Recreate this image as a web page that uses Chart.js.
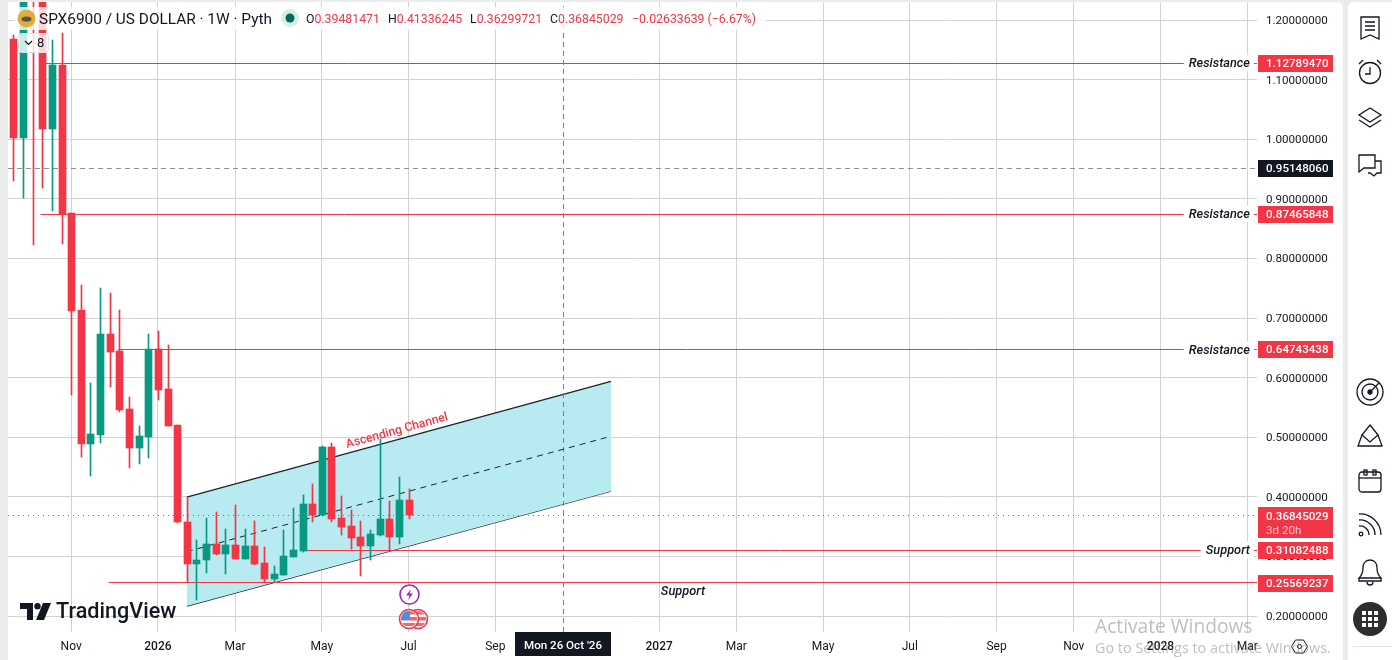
<!DOCTYPE html>
<html>
<head>
<meta charset="utf-8">
<title>SPX6900 / US DOLLAR</title>
<script src="https://cdn.jsdelivr.net/npm/chart.js@4"></script>
<style>
html, body { margin: 0; height: 100%; background: #ebebeb; overflow: hidden; font-family: Roboto, sans-serif; color: #131722; }
#panel { position: absolute; left: 8px; top: 2px; width: 1335px; height: 658px; background: #fff; border-top-right-radius: 6px; }
#side { position: absolute; left: 1348px; top: 2px; width: 44px; height: 658px; background: #fff; border-top-left-radius: 6px; }
#side svg { position: absolute; fill: none; stroke: #131722; stroke-width: 1.3; }
#side hr { position: absolute; left: 5px; right: 0; top: 644px; margin: 0; border: 0; border-top: 1px solid #e0e3eb; }
canvas { position: absolute; left: 0; top: 0; display: block; }
.abs { position: absolute; white-space: nowrap; }
#wash { left: 14px; top: 7px; width: 752px; height: 23px; background: rgba(255,255,255,.8); border-radius: 4px; }
#wash2 { left: 18px; top: 33px; width: 31px; height: 20px; background: rgba(255,255,255,.8); border: 1px solid #e0e3eb; border-radius: 4px; box-sizing: border-box; font-size: 13px; line-height: 18px; }
#title { left: 39px; top: 9px; font-size: 15.4px; line-height: 20px; }
.ohlc { top: 10px; font-size: 12.3px; line-height: 18px; color: #f23645; }
.ohlc b { font-weight: 400; color: #131722; }
#win1 { left: 1095px; top: 612px; font: 19.2px "Open Sans", sans-serif; color: rgba(110,110,110,.45); }
#win2 { left: 1095px; top: 638px; font: 14.4px "Open Sans", sans-serif; color: rgba(110,110,110,.45); }
#tv { left: 56px; top: 598px; font-size: 21.6px; font-weight: 500; line-height: 26px; color: #131722; }
</style>
</head>
<body>
<div id="panel"></div>
<div id="side">
  <svg style="left:10px;top:13px" width="24" height="26" viewBox="0 0 24 26"><path d="M3 2h18v22l-9-4-9 4zM7 7h10M7 11h10M7 15h10"/></svg>
  <svg style="left:8px;top:56px" width="28" height="28" viewBox="0 0 28 28"><circle cx="14" cy="15" r="10.5"/><path d="M14 9v7h-5M3 6l4-4M25 6l-4-4"/></svg>
  <svg style="left:8px;top:104px" width="28" height="24" viewBox="0 0 28 24"><path d="M14 2l11 7-11 7-11-7zM3 14l11 7 11-7"/></svg>
  <svg style="left:9px;top:150px" width="27" height="26" viewBox="0 0 27 26"><path d="M2 20V3h16v13H7zM18 9h6v12h-4l-3 3-4-3h-2"/></svg>
  <svg style="left:8px;top:376px" width="28" height="28" viewBox="0 0 28 28"><circle cx="14" cy="14" r="13"/><circle cx="14" cy="14" r="8"/><circle cx="14" cy="14" r="2" fill="#131722"/><path d="M14 14l9-9"/></svg>
  <svg style="left:9px;top:422px" width="26" height="24" viewBox="0 0 26 24"><path d="M13 1l8 10-8 7-8-7zM5 11l-4 11h24l-4-11"/></svg>
  <svg style="left:10px;top:466px" width="24" height="26" viewBox="0 0 24 26"><rect x="1" y="4" width="22" height="20" rx="3"/><path d="M1 10h22"/><rect x="6" y="2" width="3" height="5"/><rect x="15" y="2" width="3" height="5"/></svg>
  <svg style="left:10px;top:510px" width="24" height="26" viewBox="0 0 24 26"><circle cx="3" cy="22" r="1.8"/><path d="M1 14a9 9 0 0 1 10 9M1 8a15 15 0 0 1 16 15M1 2a21 21 0 0 1 22 21"/></svg>
  <svg style="left:9px;top:556px" width="26" height="28" viewBox="0 0 26 28"><path d="M13 2c-5 0-7 4-7 8 0 5-2 8-4 10h22c-2-2-4-5-4-10 0-4-2-8-7-8zM2 20v3h22v-3M10 24a3 3 0 0 0 6 0"/></svg>
  <svg style="left:5px;top:600px;stroke:none;fill:#2e2e2e" width="34" height="34" viewBox="0 0 34 34"><circle cx="17" cy="17" r="17"/><g fill="#fff"><rect x="9" y="9" width="4" height="4"/><rect x="15" y="9" width="4" height="4"/><rect x="21" y="9" width="4" height="4"/><rect x="9" y="15" width="4" height="4"/><rect x="15" y="15" width="4" height="4"/><rect x="21" y="15" width="4" height="4"/><rect x="9" y="21" width="4" height="4"/><rect x="15" y="21" width="4" height="4"/><rect x="21" y="21" width="4" height="4"/></g></svg>
  <hr>
</div>
<canvas id="chart" width="1392" height="660"></canvas>

<div id="wash" class="abs"></div>
<svg class="abs" style="left:17px;top:9px" width="19" height="19" viewBox="0 0 19 19"><circle cx="9.5" cy="9.5" r="9" fill="#e0ad3c"/><ellipse cx="9.5" cy="10" rx="5" ry="2.6" fill="#5b5140"/></svg>
<div id="title" class="abs">SPX6900 / US DOLLAR · 1W · Pyth</div>
<svg class="abs" style="left:281px;top:9px" width="18" height="18" viewBox="0 0 18 18"><circle cx="9" cy="9" r="9" fill="#d5eeea"/><circle cx="9" cy="9" r="4.5" fill="#006b58"/></svg>
<div class="abs ohlc" style="left:306px"><b>O</b>0.39481471</div>
<div class="abs ohlc" style="left:388px"><b>H</b>0.41336245</div>
<div class="abs ohlc" style="left:470px"><b>L</b>0.36299721</div>
<div class="abs ohlc" style="left:550px"><b>C</b>0.36845029</div>
<div class="abs ohlc" style="left:632px">−0.02633639 (−6.67%)</div>
<div id="wash2" class="abs"><svg style="position:absolute;left:5px;top:6px" width="9" height="6" viewBox="0 0 9 6"><path d="M1 1l3.5 3.5L8 1" fill="none" stroke="#131722" stroke-width="1.2"/></svg><span style="position:absolute;left:18px">8</span></div>

<svg class="abs" style="left:20px;top:603px" width="32" height="17" viewBox="0 0 32 17"><path d="M0 0h13v17H7V6H0z" fill="#131722"/><circle cx="17.5" cy="3.2" r="3.2" fill="#131722"/><path d="M23 0h8l-7 17h-8z" fill="#131722"/></svg>
<div id="tv" class="abs">TradingView</div>

<svg class="abs" style="left:398px;top:584px" width="32" height="46" viewBox="0 0 32 46">
  <defs><clipPath id="f1"><circle cx="20" cy="35" r="8"/></clipPath><clipPath id="f2"><circle cx="11" cy="35" r="8"/></clipPath></defs>
  <circle cx="11.5" cy="10.5" r="9.5" fill="#fff" stroke="#9c27b0" stroke-width="1.6"/><path d="M13 5l-5 6.5h3.5L10 16l5-6.5h-3.5z" fill="#9c27b0"/>
  <circle cx="20" cy="35" r="9.5" fill="#fff" stroke="#f23645" stroke-width="1.6"/><g clip-path="url(#f1)"><path d="M12 27h16v3.5H12zM12 33h16v3.5H12zM12 39h16v3H12z" fill="#f4656e"/></g>
  <circle cx="11" cy="35" r="9.5" fill="#fff" stroke="#f23645" stroke-width="1.6"/><g clip-path="url(#f2)"><path d="M3 27h16v3.5H3zM3 33h16v3.5H3zM3 39h16v3H3z" fill="#f4656e"/><rect x="3" y="27" width="9" height="9" fill="#4a90e2"/></g>
</svg>

<svg class="abs" style="left:1291px;top:638px" width="17" height="17" viewBox="0 0 17 17"><path d="M4.5 2h8l4 6.5-4 6.5h-8l-4-6.5z" fill="none" stroke="#131722"/><circle cx="8.5" cy="8.5" r="2" fill="none" stroke="#131722"/></svg>
<div id="win1" class="abs">Activate Windows</div>
<div id="win2" class="abs">Go to Settings to activate Windows.</div>

<script>
// weekly candles, index 0 is the first visible week. values
// (idx 1-3 run off the top of the chart so those tops are a guess)
const opens  = [1.1673,1.0018,1.30,1.26,1.0169,1.1237,0.8756,0.7130,0.4889,0.5040,0.6728,0.6443,0.5471,0.4822,0.5006,0.6476,0.5806,0.5202,0.3576,0.2860,0.2927,0.3207,0.3040,0.3191,0.2956,0.3174,0.2889,0.2621,0.2688,0.2989,0.3090,0.3878,0.3694,0.4833,0.3643,0.3509,0.3325,0.3174,0.3358,0.3627,0.3325,0.39481471];
const closes = [1.0018,1.28,1.26,1.0169,1.1237,0.8739,0.7118,0.4889,0.5051,0.6728,0.6431,0.5454,0.4822,0.5018,0.6476,0.5794,0.5191,0.3565,0.2860,0.2939,0.3207,0.3040,0.3191,0.2956,0.3174,0.2872,0.2621,0.2704,0.3006,0.3107,0.3878,0.3694,0.4833,0.3627,0.3492,0.3308,0.3174,0.3375,0.3627,0.3325,0.3945,0.36845029];
const highs  = [1.1740,1.30,1.36,1.30,1.1656,1.1785,0.8756,0.7549,0.5906,0.7499,0.7415,0.7130,0.5672,0.5186,0.6728,0.6778,0.6543,0.5202,0.4000,0.3274,0.3643,0.3744,0.3459,0.3861,0.3459,0.3593,0.3157,0.2839,0.3442,0.3811,0.4029,0.4213,0.4850,0.4901,0.4012,0.3777,0.3593,0.3442,0.4968,0.3928,0.4331,0.41336245];
const lows   = [0.9293,0.9013,0.8220,0.9180,0.8795,0.8241,0.5705,0.4671,0.4352,0.4906,0.5844,0.5425,0.4486,0.4553,0.4654,0.5626,0.5191,0.3548,0.2570,0.2257,0.2710,0.3023,0.2693,0.2951,0.2956,0.2844,0.2570,0.2559,0.2688,0.2989,0.3073,0.3565,0.3677,0.3565,0.3358,0.3124,0.2671,0.2939,0.3330,0.3095,0.3207,0.36299721];

const yTicks = [0.2,0.3,0.4,0.5,0.6,0.7,0.8,0.9,1.0,1.1,1.2];
const xTicks = [6,15,23,32,41,50,67,75,84,93,102,110,119,128];
const xTickLabels = ['Nov','2026','Mar','May','Jul','Sep','2027','Mar','May','Jul','Sep','Nov','2028','Mar'];
const boldLabels = ['2026','2027','2028'];

const xMin = -0.55, xMax = 129.015;
const yMin = 0.17331, yMax = 1.23054;

// horizontal levels and where each one starts
const levelPrices = [1.1278947,0.87465848,0.64743438,0.31082488,0.25569237];
const levelStarts = [3.35,2.83,10.85,30.2,9.9];
const levelNames  = ['Resistance','Resistance','Resistance','Support',''];
const currentPrice = 0.36845029;
const crossPrice = 0.9514806;
const crossWeek = 57;

// channel end points
const channelX = [18,62];
const channelUpper = [0.3995,0.5940];
const channelMiddle = [0.3082,0.5018];
const channelLower = [0.2168,0.4096];

const RED = '#f23645', GREEN = '#089981';

const weeks = opens.map((o, i) => i);
const candleColors = weeks.map(i => closes[i] < opens[i] ? RED : GREEN);

function segment(xs, ys) {
    return xs.map((x, i) => ({ x: x, y: ys[i] }));
}

function lineSet(points, color, extra) {
    return Object.assign({
        type: 'line',
        data: points,
        borderColor: color,
        borderWidth: 1,
        pointRadius: 0,
        fill: false,
        order: 5
    }, extra || {});
}

const datasets = [
    { type: 'bar', data: weeks.map(i => ({ x: i, y: [opens[i], closes[i]] })), backgroundColor: candleColors, barThickness: 7, grouped: false, order: 1 },
    { type: 'bar', data: weeks.map(i => ({ x: i, y: [lows[i], highs[i]] })), backgroundColor: candleColors, barThickness: 1, grouped: false, order: 2 },
    lineSet(segment(channelX, channelUpper), '#1f2328', { fill: '+1', backgroundColor: '#b7ebf1', borderWidth: 1.3, order: 6 }),
    lineSet(segment(channelX, channelLower), '#1f2328', { borderWidth: 1.3, order: 6 }),
    lineSet(segment(channelX, channelMiddle), '#1f2328', { borderDash: [6, 5], order: 5 }),
    lineSet(segment([xMin, xMax], [crossPrice, crossPrice]), '#8f8f8f', { borderDash: [5, 4] }),
    lineSet(segment([crossWeek, crossWeek], [yMin, yMax]), '#7d7d7d', { borderDash: [5, 4] }),
    lineSet(segment([xMin, xMax], [currentPrice, currentPrice]), RED, { borderDash: [1, 4] })
];
levelPrices.forEach((p, i) => {
    datasets.push(lineSet(segment([levelStarts[i], xMax], [p, p]), RED));
});

// bars and straight lines land on fractional pixels, snap them so they stay crisp like the original
const snapMarks = {
    id: 'snapMarks',
    beforeDatasetsDraw(chart) {
        chart.getSortedVisibleDatasetMetas().forEach(meta => {
            if (meta.type === 'bar') {
                meta.data.forEach((el, i) => {
                    el.x = Math.round(chart.scales.x.getPixelForValue(meta._parsed[i].x)) + 0.5;
                    el.y = Math.round(el.y - 0.4);
                    el.base = Math.round(el.base - 0.4);
                });
            } else {
                const a = meta.data[0], b = meta.data[1];
                if (a.y === b.y) { a.y = b.y = Math.floor(a.y) + 0.5; }
                if (a.x === b.x) { a.x = b.x = Math.round(chart.scales.x.getPixelForValue(crossWeek)) + 0.5; }
            }
        });
    }
};

const tickFont = '11.6px Roboto, sans-serif';

function priceTag(ctx, y, text, bg, top, h) {
    ctx.fillStyle = bg;
    ctx.fillRect(1258, top === undefined ? Math.round(y) - 8 : top, 75, h || 17);
    ctx.fillStyle = '#fff';
    ctx.font = '500 ' + tickFont;
    ctx.textAlign = 'left';
    ctx.textBaseline = 'middle';
    ctx.fillText(text, 1266, y + 1);
}

const annotations = {
    id: 'annotations',
    afterDraw(chart) {
        const ctx = chart.ctx;
        const yScale = chart.scales.y;
        ctx.save();

        // names on the levels, they cut the line
        levelNames.forEach((name, i) => {
            if (!name) return;
            const y = yScale.getPixelForValue(levelPrices[i]);
            ctx.font = 'italic 500 12.8px Roboto, sans-serif';
            const w = ctx.measureText(name).width;
            ctx.fillStyle = '#fff';
            ctx.fillRect(1250 - w - 5, y - 8, w + 9, 16);
            ctx.fillStyle = '#131722';
            ctx.textAlign = 'right';
            ctx.textBaseline = 'middle';
            ctx.fillText(name, 1250, y + 1);
        });

        ctx.font = 'italic 500 12.8px Roboto, sans-serif';
        ctx.fillStyle = '#131722';
        ctx.textAlign = 'center';
        ctx.textBaseline = 'middle';
        ctx.fillText('Support', 683, 592);

        // channel caption
        ctx.save();
        ctx.translate(397, 431);
        ctx.rotate(-15.4 * Math.PI / 180);
        ctx.font = '500 12.2px Roboto, sans-serif';
        ctx.fillStyle = RED;
        ctx.fillText('Ascending Channel', 0, 0);
        ctx.restore();

        // price tags on the axis
        levelPrices.forEach(p => {
            priceTag(ctx, yScale.getPixelForValue(p), p.toFixed(8), RED);
        });
        priceTag(ctx, yScale.getPixelForValue(crossPrice), crossPrice.toFixed(8), '#131722');

        const cy = yScale.getPixelForValue(currentPrice);
        priceTag(ctx, cy, currentPrice.toFixed(8), RED, Math.round(cy) - 9, 31);
        ctx.fillStyle = '#fbc1c7';
        ctx.font = tickFont;
        ctx.fillText('3d 20h', 1266, cy + 15);

        // date tag under the crosshair
        ctx.fillStyle = '#131722';
        ctx.fillRect(515, 632, 96, 24);
        ctx.fillStyle = '#fff';
        ctx.font = '500 ' + tickFont;
        ctx.textAlign = 'center';
        ctx.fillText("Mon 26 Oct '26", 563, 646);

        ctx.restore();
    }
};

new Chart(document.getElementById('chart'), {
    type: 'bar',
    data: { datasets: datasets },
    plugins: [snapMarks, annotations],
    options: {
        responsive: false,
        animation: false,
        layout: { padding: { left: 8, top: 2, right: 49, bottom: 0 } },
        plugins: { legend: { display: false }, tooltip: { enabled: false } },
        scales: {
            x: {
                type: 'linear',
                min: xMin,
                max: xMax,
                offset: false,
                grid: { color: '#d2d2d2', offset: false, drawTicks: false },
                border: { display: false },
                afterBuildTicks: scale => { scale.ticks = xTicks.map(v => ({ value: v })); },
                afterFit: scale => { scale.height = 28; scale.paddingLeft = 0; scale.paddingRight = 0; },
                ticks: {
                    autoSkip: false,
                    maxRotation: 0,
                    padding: 8,
                    color: '#131722',
                    font: ctx => ({ family: 'Roboto', size: 12, weight: boldLabels.includes(xTickLabels[ctx.index]) ? '500' : '400' }),
                    callback: (value, i) => xTickLabels[i]
                }
            },
            y: {
                position: 'right',
                min: yMin,
                max: yMax,
                grid: { color: '#d2d2d2', drawTicks: false },
                border: { display: false },
                afterBuildTicks: scale => { scale.ticks = yTicks.map(v => ({ value: v })); },
                afterFit: scale => { scale.width = 86; scale.paddingTop = 0; scale.paddingBottom = 0; },
                ticks: {
                    padding: 9,
                    labelOffset: 1,
                    color: '#131722',
                    font: { family: 'Roboto', size: 11.6 },
                    callback: value => value.toFixed(8)
                }
            }
        }
    }
});
</script>
</body>
</html>
